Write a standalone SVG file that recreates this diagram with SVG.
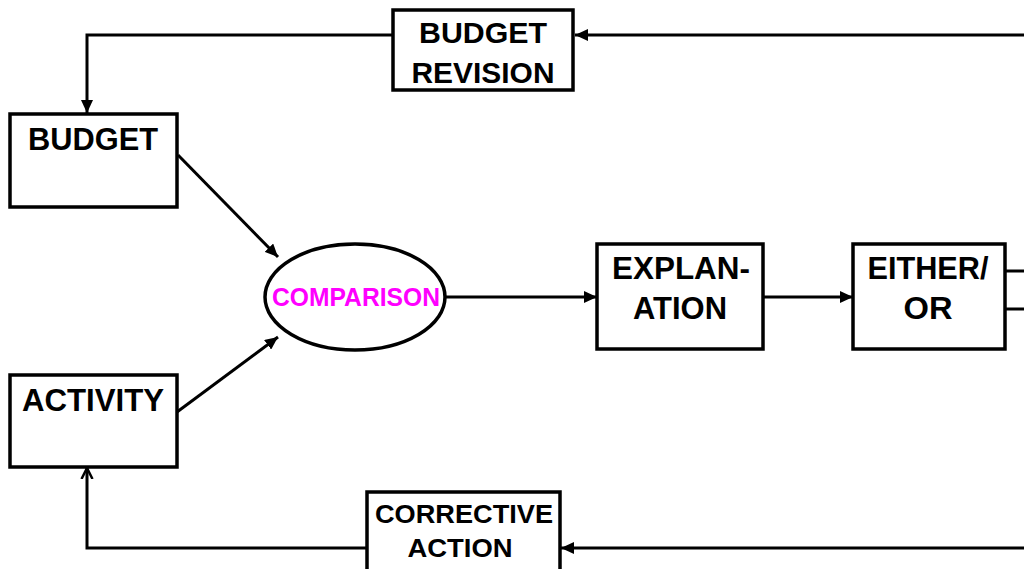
<svg xmlns="http://www.w3.org/2000/svg" width="1024" height="569" viewBox="0 0 1024 569">
<style>
.box{fill:#fff;stroke:#000;stroke-width:3.5}
.lbl{font-family:"Liberation Sans",Arial,sans-serif;font-weight:bold;fill:#000;text-anchor:middle}
.con{fill:none;stroke:#000;stroke-width:3}
</style>
<defs>
<marker id="ah" markerUnits="userSpaceOnUse" markerWidth="14" markerHeight="12" refX="13" refY="6" orient="auto">
<path d="M0,0 L13,6 L0,12 z" fill="#000"/>
</marker>
<marker id="oh" markerUnits="userSpaceOnUse" markerWidth="14" markerHeight="14" refX="11" refY="7" orient="auto">
<path d="M0,1.5 L11,7 L0,12.5" fill="none" stroke="#000" stroke-width="2.5"/>
</marker>
</defs>
<rect width="1024" height="569" fill="#fff"/>
<g id="connectors">
<path class="con" d="M1024,35 L575,35" stroke-width="4" marker-end="url(#ah)"/>
<path class="con" d="M393,35 L87,35 L87,113" stroke-width="4" marker-end="url(#ah)"/>
<path class="con" d="M178,155 L278,257" marker-end="url(#ah)"/>
<path class="con" d="M177,412 L278,337" marker-end="url(#ah)"/>
<path class="con" d="M445,297 L597,297" marker-end="url(#ah)"/>
<path class="con" d="M763,297 L853,297" marker-end="url(#ah)"/>
<path class="con" d="M1005,271 L1024,271"/>
<path class="con" d="M1005,309 L1024,309"/>
<path class="con" d="M1024,548 L561,548" stroke-width="4" marker-end="url(#ah)"/>
<path class="con" d="M367,548 L87,548 L87,468" stroke-width="4" marker-end="url(#oh)"/>
</g>
<g id="budget-revision">
<rect class="box" x="393" y="10" width="180" height="80"/>
<text class="lbl" x="483" y="43" font-size="30" textLength="128" lengthAdjust="spacingAndGlyphs">BUDGET</text>
<text class="lbl" x="483" y="83" font-size="30" textLength="143" lengthAdjust="spacingAndGlyphs">REVISION</text>
</g>
<g id="budget">
<rect class="box" x="10" y="114" width="167" height="93"/>
<text class="lbl" x="93" y="150" font-size="31" textLength="130" lengthAdjust="spacingAndGlyphs">BUDGET</text>
</g>
<g id="activity">
<rect class="box" x="10" y="375" width="167" height="92"/>
<text class="lbl" x="93" y="411" font-size="31" textLength="142" lengthAdjust="spacingAndGlyphs">ACTIVITY</text>
</g>
<g id="comparison">
<ellipse cx="355" cy="297" rx="90" ry="53" fill="#fff" stroke="#000" stroke-width="3.5"/>
<text class="lbl" x="356" y="306" font-size="26" style="fill:#ff00ff" textLength="168" lengthAdjust="spacingAndGlyphs">COMPARISON</text>
</g>
<g id="explanation">
<rect class="box" x="597" y="244" width="166" height="105"/>
<text class="lbl" x="681" y="279" font-size="31" textLength="138" lengthAdjust="spacingAndGlyphs">EXPLAN-</text>
<text class="lbl" x="680" y="319" font-size="31" textLength="94" lengthAdjust="spacingAndGlyphs">ATION</text>
</g>
<g id="either-or">
<rect class="box" x="853" y="244" width="152" height="105"/>
<text class="lbl" x="928" y="279" font-size="31" textLength="121" lengthAdjust="spacingAndGlyphs">EITHER/</text>
<text class="lbl" x="928" y="319" font-size="31" textLength="49" lengthAdjust="spacingAndGlyphs">OR</text>
</g>
<g id="corrective-action">
<rect class="box" x="367" y="492" width="193" height="100"/>
<text class="lbl" x="464" y="523" font-size="26" textLength="178" lengthAdjust="spacingAndGlyphs">CORRECTIVE</text>
<text class="lbl" x="460" y="557" font-size="26" textLength="105" lengthAdjust="spacingAndGlyphs">ACTION</text>
</g>
</svg>
